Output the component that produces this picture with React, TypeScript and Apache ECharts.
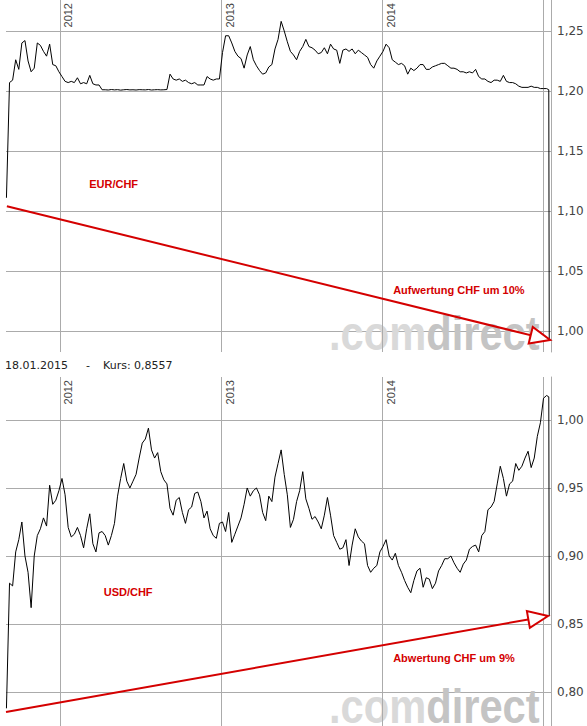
import React, { useEffect, useRef } from "react";
import * as echarts from "echarts";

// weekly samples (Fridays) starting 2011-09-02
const WEEK_START = "2011-09-02";

const eurChf = [
  1.111, 1.207, 1.209, 1.226, 1.218, 1.24, 1.242, 1.225, 1.216, 1.219,
  1.24, 1.238, 1.233, 1.229, 1.239, 1.222, 1.221, 1.216, 1.212, 1.208,
  1.207, 1.208, 1.207, 1.211, 1.206, 1.207, 1.206, 1.213, 1.206, 1.205,
  1.205, 1.201, 1.201, 1.2008, 1.2012, 1.2009, 1.2011, 1.2007, 1.201, 1.2012,
  1.2009, 1.201, 1.2008, 1.2011, 1.201, 1.2009, 1.2012, 1.2008, 1.201, 1.2011,
  1.2009, 1.201, 1.2012, 1.214, 1.21, 1.209, 1.21, 1.208, 1.209, 1.207,
  1.206, 1.207, 1.205, 1.205, 1.205, 1.212, 1.21, 1.209, 1.21, 1.21,
  1.232, 1.246, 1.246, 1.24, 1.233, 1.229, 1.227, 1.219, 1.23, 1.237,
  1.226, 1.221, 1.217, 1.214, 1.215, 1.22, 1.222, 1.235, 1.243, 1.258,
  1.25, 1.241, 1.233, 1.23, 1.226, 1.233, 1.237, 1.243, 1.237, 1.236,
  1.234, 1.231, 1.232, 1.236, 1.231, 1.239, 1.235, 1.234, 1.223, 1.234,
  1.235, 1.233, 1.235, 1.231, 1.234, 1.232, 1.23, 1.228, 1.222, 1.219,
  1.225, 1.229, 1.233, 1.239, 1.236, 1.226, 1.224, 1.222, 1.223, 1.221,
  1.214, 1.219, 1.217, 1.219, 1.222, 1.222, 1.218, 1.218, 1.22, 1.221,
  1.222, 1.223, 1.223, 1.221, 1.219, 1.219, 1.218, 1.216, 1.216, 1.215,
  1.216, 1.215, 1.218, 1.212, 1.21, 1.21, 1.208, 1.207, 1.209, 1.209,
  1.208, 1.213, 1.208, 1.207, 1.207, 1.206, 1.204, 1.203, 1.203, 1.203,
  1.204, 1.203, 1.203, 1.202, 1.202, 1.202,
];

const usdChf = [
  0.788, 0.88, 0.878, 0.903, 0.912, 0.925, 0.9, 0.888, 0.862, 0.9,
  0.915, 0.92, 0.928, 0.922, 0.952, 0.938, 0.941, 0.948, 0.957, 0.945,
  0.921, 0.914, 0.916, 0.921, 0.915, 0.906, 0.92, 0.931, 0.909, 0.903,
  0.917, 0.918, 0.915, 0.908, 0.915, 0.924, 0.944, 0.957, 0.968, 0.955,
  0.95, 0.955, 0.96, 0.972, 0.983, 0.986, 0.994, 0.978, 0.972, 0.976,
  0.962, 0.956, 0.953, 0.935, 0.93, 0.941, 0.943, 0.932, 0.924, 0.934,
  0.936, 0.946, 0.947, 0.94, 0.928, 0.933, 0.92, 0.915, 0.913, 0.924,
  0.925, 0.918, 0.932, 0.91, 0.916, 0.922, 0.928, 0.938, 0.95, 0.944,
  0.948, 0.95, 0.945, 0.932, 0.926, 0.944, 0.94, 0.958, 0.968, 0.978,
  0.96, 0.945, 0.921, 0.927, 0.94, 0.948, 0.962, 0.942, 0.935, 0.927,
  0.929, 0.925, 0.92, 0.93, 0.943, 0.93, 0.915, 0.91, 0.905, 0.906,
  0.912, 0.893, 0.908, 0.92, 0.914, 0.911, 0.909, 0.893, 0.888, 0.891,
  0.893, 0.903, 0.907, 0.912, 0.9, 0.897, 0.902, 0.893, 0.888, 0.882,
  0.877, 0.873, 0.882, 0.889, 0.891, 0.877, 0.884, 0.883, 0.876, 0.88,
  0.889, 0.893, 0.898, 0.898, 0.9, 0.895, 0.891, 0.888, 0.894, 0.897,
  0.905, 0.907, 0.908, 0.903, 0.915, 0.918, 0.934, 0.936, 0.94, 0.953,
  0.966, 0.957, 0.944, 0.953, 0.955, 0.968, 0.963, 0.966, 0.972, 0.977,
  0.965, 0.972, 0.988, 0.998, 1.016, 1.018,
];

const eurChfTail: [string, number][] = [["2015-01-14", 1.201], ["2015-01-15", 0.993]];
const usdChfTail: [string, number][] = [["2015-01-14", 1.017], ["2015-01-15", 0.8557]];

const yearLines = ["2012-01-01", "2013-01-01", "2014-01-01", "2015-01-01"];
const yearLabels = ["2012", "2013", "2014", ""];

// arrow: start point and the centre of the arrow head
const eurArrow: [string, number][] = [["2011-09-03", 1.104], ["2014-12-26", 0.9945]];
const usdArrow: [string, number][] = [["2011-09-01", 0.7853], ["2014-12-21", 0.8546]];

const eurNotes: { text: string; at: [string, number] }[] = [
  { text: "EUR/CHF", at: ["2012-05-02", 1.1225] },
  { text: "Aufwertung CHF um 10%", at: ["2014-06-24", 1.0342] },
];
const usdNotes: { text: string; at: [string, number] }[] = [
  { text: "USD/CHF", at: ["2012-06-04", 0.8735] },
  { text: "Abwertung CHF um 9%", at: ["2014-06-13", 0.825] },
];

const headerDate = "18.01.2015";
const headerDash = "-";
const headerKurs = "Kurs: 0,8557";
const watermarkA = ".com";
const watermarkB = "direct";

const xRange = ["2011-09-01", "2015-01-19"];
const eurRange = [0.9825, 1.2758];
const usdRange = [0.775, 1.0316];

const toTime = (s: string) => {
  const [y, m, d] = s.split("-").map(Number);
  return new Date(y, m - 1, d).getTime();
};

const weekly = (values: number[]) => {
  const [y, m, d] = WEEK_START.split("-").map(Number);
  return values.map((v, i) => [new Date(y, m - 1, d + 7 * i).getTime(), v]);
};

const fmt = (v: number) => v.toFixed(2).replace(".", ",");

const RED = "#d40000";
const GRID = "#ababab";

function panel(
  idx: number,
  values: number[],
  tail: [string, number][],
  arrow: [string, number][],
  notes: { text: string; at: [string, number] }[]
) {
  const data = weekly(values).concat(tail.map(([d, v]) => [toTime(d), v]));
  return [
    {
      type: "line",
      xAxisIndex: idx,
      yAxisIndex: idx,
      data: [],
      silent: true,
      markLine: {
        z: 1,
        silent: true,
        animation: false,
        symbol: ["none", "none"],
        lineStyle: { color: GRID, width: 1, type: "solid" },
        emphasis: { disabled: true },
        label: {
          show: true,
          position: "insideEndBottom",
          formatter: "{b}",
          color: "#444",
          fontSize: 11,
          fontFamily: "Liberation Sans",
          distance: 3,
        },
        data: yearLines.map((d, i) => ({ name: yearLabels[i], xAxis: toTime(d) })),
      },
    },
    {
      type: "line",
      xAxisIndex: idx,
      yAxisIndex: idx,
      data,
      showSymbol: false,
      symbol: "none",
      silent: true,
      z: 3,
      lineStyle: { color: "#000", width: 1 },
      markLine: {
        z: 6,
        silent: true,
        animation: false,
        symbol: ["none", "emptyTriangle"],
        symbolSize: [17, 20],
        lineStyle: { color: RED, width: 2, type: "solid" },
        emphasis: { disabled: true },
        label: { show: false },
        data: [[{ coord: [toTime(arrow[0][0]), arrow[0][1]] }, { coord: [toTime(arrow[1][0]), arrow[1][1]] }]],
      },
      markPoint: {
        silent: true,
        animation: false,
        symbol: "circle",
        symbolSize: 1,
        itemStyle: { color: "rgba(0,0,0,0)" },
        label: {
          show: true,
          position: "inside",
          formatter: "{b}",
          color: RED,
          fontWeight: "bold",
          fontSize: 11,
          fontFamily: "Liberation Sans",
        },
        data: notes.map((n) => ({ name: n.text, coord: [toTime(n.at[0]), n.at[1]] })),
      },
    },
  ];
}

function yAxis(idx: number, range: number[]) {
  return {
    type: "value",
    gridIndex: idx,
    position: "right",
    min: range[0],
    max: range[1],
    minInterval: 0.05,
    maxInterval: 0.05,
    splitNumber: 6,
    axisLine: { show: true, lineStyle: { color: GRID, width: 1 } },
    axisTick: { show: false },
    axisLabel: {
      formatter: fmt,
      showMinLabel: false,
      showMaxLabel: false,
      color: "#444",
      fontSize: 12,
      fontFamily: "DejaVu Sans",
      margin: 6,
    },
    splitLine: {
      show: true,
      showMinLine: false,
      showMaxLine: false,
      lineStyle: { color: GRID, width: 1 },
    },
  };
}

function watermark(x: number, y: number) {
  const tok = (fill: string) => ({
    fill,
    fontSize: 49,
    fontWeight: "bold",
    fontFamily: "Liberation Sans",
    lineHeight: 38,
  });
  return {
    type: "group",
    x,
    y,
    scaleX: 0.85,
    z: 1,
    silent: true,
    children: [
      {
        type: "text",
        z: 1,
        style: {
          text: `{a|${watermarkA}}{b|${watermarkB}}`,
          textVerticalAlign: "middle",
          rich: { a: tok("#d9d9d9"), b: tok("#c4c4c4") },
        },
      },
    ],
  };
}

export default function App() {
  const ref = useRef<HTMLDivElement>(null);
  useEffect(() => {
    if (!ref.current) return;
    const chart = echarts.init(ref.current, null, { renderer: "svg" });
    const xMin = toTime(xRange[0]);
    const xMax = toTime(xRange[1]);
    const headerFont = '11px "DejaVu Sans"';
    chart.setOption({
      animation: false,
      backgroundColor: "#fff",
      grid: [
        { left: 6, right: 36, top: 0, height: 352 },
        { left: 6, right: 36, top: 377, height: 349 },
      ],
      xAxis: [
        { type: "time", gridIndex: 0, min: xMin, max: xMax, show: false },
        { type: "time", gridIndex: 1, min: xMin, max: xMax, show: false },
      ],
      yAxis: [yAxis(0, eurRange), yAxis(1, usdRange)],
      graphic: [
        watermark(329, 333),
        watermark(329, 706),
        { type: "text", x: 5, y: 365, style: { text: headerDate, font: headerFont, fill: "#222", textVerticalAlign: "middle" } },
        { type: "text", x: 86, y: 365, style: { text: headerDash, font: headerFont, fill: "#222", textVerticalAlign: "middle" } },
        { type: "text", x: 103, y: 365, style: { text: headerKurs, font: headerFont, fill: "#222", textVerticalAlign: "middle" } },
      ],
      series: [
        ...panel(0, eurChf, eurChfTail, eurArrow, eurNotes),
        ...panel(1, usdChf, usdChfTail, usdArrow, usdNotes),
      ],
    });
    return () => chart.dispose();
  }, []);
  return (
    <div
      ref={ref}
      style={{ position: "absolute", left: 0, top: 0, width: 587, height: 726, background: "#fff" }}
    />
  );
}
